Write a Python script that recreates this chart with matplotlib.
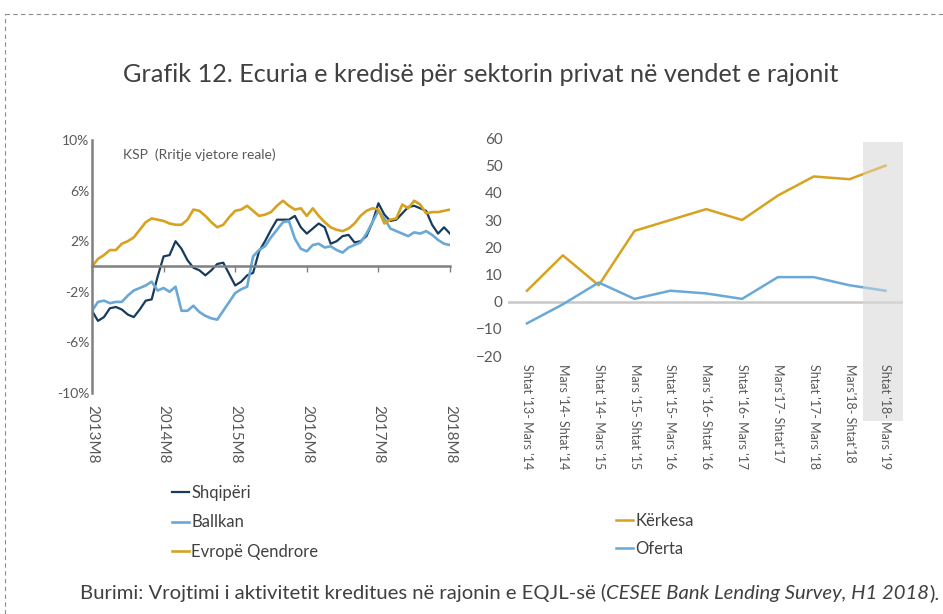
import matplotlib.pyplot as plt
from matplotlib.lines import Line2D
from matplotlib.patches import Rectangle
import matplotlib.transforms as mtransforms

plt.rcParams['font.family'] = ['Lato', 'DejaVu Sans']

# --- Left chart: real annual credit growth (monthly, 2013M8 - 2018M8) ---
muajt = list(range(61))
vite_ticks = [0, 12, 24, 36, 48, 60]
vite_labels = ['2013M8', '2014M8', '2015M8', '2016M8', '2017M8', '2018M8']

shqiperi = [-3.5, -4.3, -4.0, -3.3, -3.2, -3.4, -3.8, -4.0, -3.4, -2.7,
            -2.6, -0.8, 0.8, 0.9, 2.0, 1.4, 0.5, -0.1, -0.3, -0.7,
            -0.3, 0.2, 0.3, -0.6, -1.5, -1.2, -0.7, -0.5, 1.2, 2.0,
            2.9, 3.7, 3.7, 3.7, 4.0, 3.1, 2.6, 3.0, 3.4, 3.1,
            1.8, 2.0, 2.4, 2.5, 1.9, 2.0, 2.4, 3.5, 5.0, 4.1,
            3.6, 3.7, 4.2, 4.7, 4.8, 4.6, 4.4, 3.3, 2.6, 3.1, 2.6]
ballkan = [-3.5, -2.8, -2.7, -2.9, -2.8, -2.8, -2.3, -1.9, -1.7, -1.5,
           -1.2, -1.9, -1.7, -2.0, -1.6, -3.5, -3.5, -3.1, -3.6, -3.9,
           -4.1, -4.2, -3.5, -2.8, -2.1, -1.8, -1.6, 0.8, 1.3, 1.6,
           2.3, 2.9, 3.5, 3.6, 2.2, 1.4, 1.2, 1.7, 1.8, 1.5,
           1.6, 1.3, 1.1, 1.5, 1.7, 1.9, 2.6, 3.5, 4.4, 3.8,
           3.0, 2.8, 2.6, 2.4, 2.7, 2.6, 2.8, 2.5, 2.1, 1.8, 1.7]
evrope_qendrore = [0.0, 0.6, 0.9, 1.3, 1.3, 1.8, 2.0, 2.3, 2.9, 3.5,
                   3.8, 3.7, 3.6, 3.4, 3.3, 3.3, 3.7, 4.5, 4.4, 4.0,
                   3.5, 3.1, 3.3, 3.9, 4.4, 4.5, 4.8, 4.4, 4.0, 4.1,
                   4.3, 4.8, 5.2, 4.8, 4.5, 4.6, 4.0, 4.6, 4.0, 3.5,
                   3.1, 2.9, 2.8, 3.0, 3.4, 4.0, 4.4, 4.6, 4.5, 3.4,
                   3.7, 3.8, 4.9, 4.6, 5.2, 4.9, 4.2, 4.3, 4.3, 4.4, 4.5]
y_ticks_majtas = [10, 6, 2, -2, -6, -10]
y_labels_majtas = ['10%', '6%', '2%', '-2%', '-6%', '-10%']

# --- Right chart: demand and supply of credit (survey periods) ---
periudhat = ["Shtat '13- Mars '14", "Mars '14- Shtat '14", "Shtat '14- Mars '15",
             "Mars '15- Shtat '15", "Shtat '15- Mars '16", "Mars '16- Shtat '16",
             "Shtat '16- Mars '17", "Mars'17- Shtat'17", "Shtat '17- Mars '18",
             "Mars'18- Shtat'18", "Shtat '18- Mars '19"]
kerkesa = [4, 17, 6, 26, 30, 34, 30, 39, 46, 45, 50]
oferta = [-8, -1, 7, 1, 4, 3, 1, 9, 9, 6, 4]

c_navy = '#173b5c'
c_blu = '#6aa8d6'
c_ar = '#d6a21f'
c_txt = '#595959'
c_dark = '#404040'

fig = plt.figure(figsize=(9.43, 6.14), dpi=100)

# dashed frame (top and left only visible)
fig.add_artist(Line2D([5 / 943, 1.0], [1 - 14 / 614] * 2, transform=fig.transFigure,
                      color='#8c8c8c', lw=0.8, ls=(0, (4, 3))))
fig.add_artist(Line2D([5 / 943] * 2, [0, 1 - 14 / 614], transform=fig.transFigure,
                      color='#8c8c8c', lw=0.8, ls=(0, (4, 3))))

fig.text(0.51, 1 - 75 / 614, 'Grafik 12. Ecuria e kredisë për sektorin privat në vendet e rajonit',
         ha='center', va='center', fontsize=18.2, color=c_dark)

# ---- left axes
ax1 = fig.add_axes([92 / 943, 1 - 393 / 614, 358 / 943, 253 / 614])
l1, = ax1.plot(muajt, shqiperi, color=c_navy, lw=1.6, label='Shqipëri')
l2, = ax1.plot(muajt, ballkan, color=c_blu, lw=1.9, label='Ballkan')
l3, = ax1.plot(muajt, evrope_qendrore, color=c_ar, lw=1.9, label='Evropë Qendrore')
ax1.set_xlim(0, 60)
ax1.set_ylim(-10, 10)
ax1.set_yticks(y_ticks_majtas)
ax1.set_yticklabels(y_labels_majtas)
ax1.set_xticks(vite_ticks)
ax1.set_xticklabels(vite_labels)
for s in ['top', 'right']:
    ax1.spines[s].set_visible(False)
ax1.spines['left'].set_color('#808080')
ax1.spines['left'].set_linewidth(1.8)
ax1.spines['bottom'].set_position(('data', 0))
ax1.spines['bottom'].set_color('#808080')
ax1.spines['bottom'].set_linewidth(1.8)
ax1.tick_params(axis='y', length=0, pad=2, labelsize=10, labelcolor=c_txt)
ax1.tick_params(axis='x', length=4, width=1, color='#808080', direction='out',
                pad=96, labelsize=11, labelcolor=c_txt, labelrotation=-90)
for t in ax1.get_xticklabels():
    t.set_va('top')
    t.set_ha('center')
ax1.text(0.087, 0.94, 'KSP  (Rritje vjetore reale)', transform=ax1.transAxes,
         fontsize=10, color=c_txt, va='center')
fig.legend(handles=[l1, l2, l3], loc='upper left', bbox_to_anchor=(172 / 943, 1 - 485 / 614),
           frameon=False, fontsize=12, handlelength=1.0, handletextpad=0.15,
           labelspacing=0.8, borderaxespad=0, borderpad=0, labelcolor=c_dark)

# ---- right axes
ax2 = fig.add_axes([508 / 943, 1 - 356 / 614, 395 / 943, 217.6 / 614])
x2 = list(range(len(periudhat)))
k1, = ax2.plot(x2, kerkesa, color=c_ar, lw=1.8, label='Kërkesa', zorder=3)
k2, = ax2.plot(x2, oferta, color=c_blu, lw=1.8, label='Oferta', zorder=3)
ax2.axhline(0, color='#c8c8c8', lw=1.8, zorder=2)
ax2.set_xlim(-0.53, 10.49)
ax2.set_ylim(-20, 60)
ax2.set_yticks(range(-20, 61, 10))
ax2.set_xticks(x2)
ax2.set_xticklabels(periudhat)
for s in ax2.spines.values():
    s.set_visible(False)
ax2.tick_params(axis='y', length=0, pad=4, labelsize=11, labelcolor=c_txt)
ax2.tick_params(axis='x', length=0, pad=6, labelsize=9, labelcolor=c_txt, labelrotation=-90)
for t in ax2.get_xticklabels():
    t.set_va('top')
    t.set_ha('center')
trans = mtransforms.blended_transform_factory(ax2.transData, ax2.transAxes)
# grey band for the projected period, behind the labels; a light veil fades the lines
ax2.add_patch(Rectangle((9.38, -0.30), 1.11, 1.285, transform=trans, clip_on=False,
                        facecolor='#e8e8e8', edgecolor='none', zorder=1))
ax2.add_patch(Rectangle((9.38, 0.0), 1.11, 0.985, transform=trans, clip_on=False,
                        facecolor='#e8e8e8', alpha=0.4, edgecolor='none', zorder=4))
fig.legend(handles=[k1, k2], loc='upper left', bbox_to_anchor=(616 / 943, 1 - 513 / 614),
           frameon=False, fontsize=12, handlelength=1.0, handletextpad=0.15,
           labelspacing=0.7, borderaxespad=0, borderpad=0, labelcolor=c_dark)

# ---- source line with italic part
fig.canvas.draw()
r = fig.canvas.get_renderer()
fs = 14.6
t1 = fig.text(80 / 943, 1 - 593 / 614, 'Burimi: Vrojtimi i aktivitetit kreditues në rajonin e EQJL-së (',
              fontsize=fs, color=c_dark, va='center')
bb = t1.get_window_extent(renderer=r).transformed(fig.transFigure.inverted())
t2 = fig.text(bb.x1, 1 - 593 / 614, 'CESEE Bank Lending Survey, H1 2018',
              fontsize=fs, color=c_dark, va='center', style='italic')
bb2 = t2.get_window_extent(renderer=r).transformed(fig.transFigure.inverted())
fig.text(bb2.x1, 1 - 593 / 614, ').', fontsize=fs, color=c_dark, va='center')

plt.savefig('out.png', dpi=100)
